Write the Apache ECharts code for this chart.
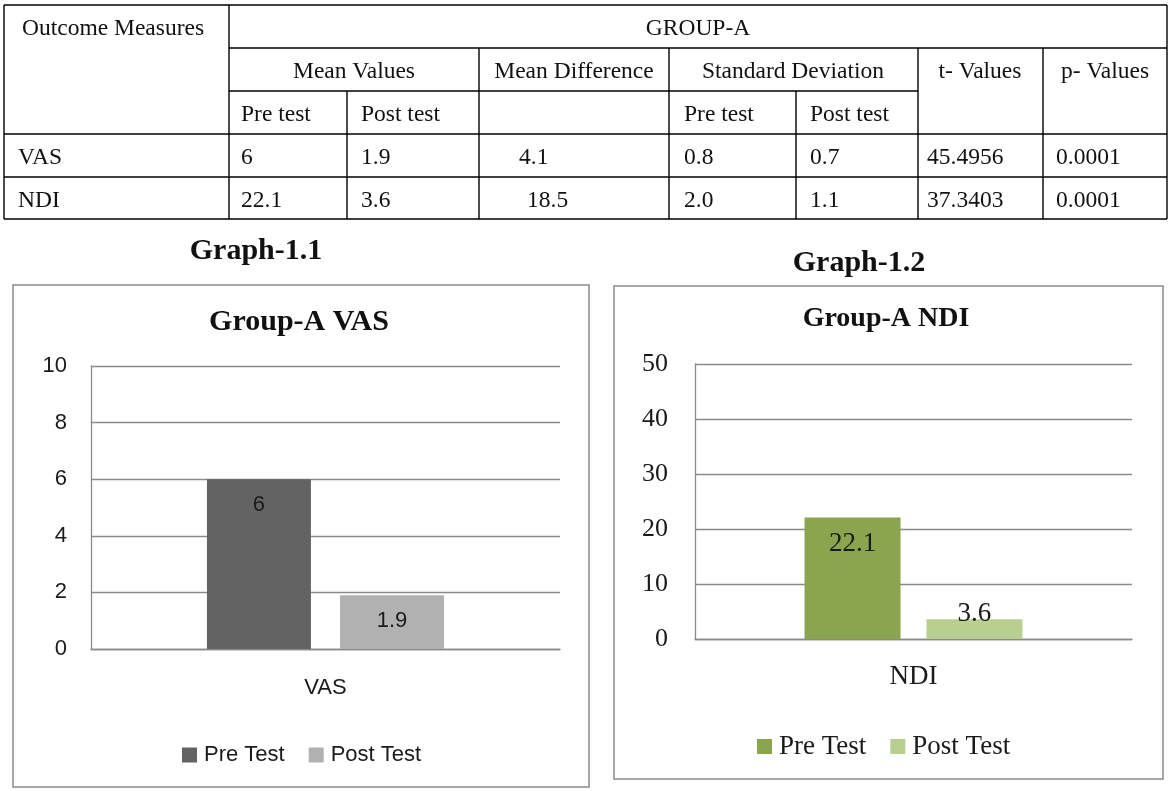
<!DOCTYPE html>
<html>
<head>
<meta charset="utf-8">
<script src="https://cdn.jsdelivr.net/npm/echarts@6/dist/echarts.min.js"></script>
<style>
html,body{margin:0;padding:0;background:#fff;}
#main{width:1171px;height:791px;}
</style>
</head>
<body>
<div id="main"></div>
<script>
// ---------- table data ----------
const outcomeHeader = 'Outcome Measures';
const groupLabel = 'GROUP-A';
const headerGroups = ['Mean Values', 'Mean Difference', 'Standard Deviation', 't- Values', 'p- Values'];
const subHeaders = ['Pre test', 'Post test', 'Pre test', 'Post test'];
const measures = ['VAS', 'NDI'];
const meanPre = ['6', '22.1'];
const meanPost = ['1.9', '3.6'];
const meanDiff = ['4.1', '18.5'];
const sdPre = ['0.8', '2.0'];
const sdPost = ['0.7', '1.1'];
const tValues = ['45.4956', '37.3403'];
const pValues = ['0.0001', '0.0001'];

// ---------- chart data ----------
const seriesNames = ['Pre Test', 'Post Test'];
const graphTitles = ['Graph-1.1', 'Graph-1.2'];
const chartTitles = ['Group-A VAS', 'Group-A NDI'];
const vasCategories = ['VAS'];
const vasPre = [6];
const vasPost = [1.9];
const vasTicks = { min: 0, max: 10, step: 2 };
const ndiCategories = ['NDI'];
const ndiPre = [22.1];
const ndiPost = [3.6];
const ndiTicks = { min: 0, max: 50, step: 10 };

// ---------- layout / style ----------
const SERIF = '"Liberation Serif","Times New Roman",serif';
const SANS = '"Liberation Sans",Arial,sans-serif';
const TFS = 23.5;
const colX = [4, 229, 347, 479, 669, 796, 918, 1043, 1167];
const rowY = [5, 48, 91, 134, 177, 219];

const graphics = [];
function line(x1, y1, x2, y2, stroke, w) {
  graphics.push({ type: 'line', silent: true, shape: { x1, y1, x2, y2 }, style: { stroke: stroke || '#000', lineWidth: w || 1.4 } });
}
function text(t, x, y, align, font, color) {
  graphics.push({ type: 'text', silent: true, x, y, style: { text: t, font: font || (TFS + 'px ' + SERIF), fill: color || '#111', align: align || 'left', verticalAlign: 'middle' } });
}
// table borders
line(colX[0], rowY[0], colX[8], rowY[0]);
line(colX[0], rowY[5], colX[8], rowY[5]);
line(colX[0], rowY[0], colX[0], rowY[5]);
line(colX[8], rowY[0], colX[8], rowY[5]);
line(colX[1], rowY[1], colX[8], rowY[1]);
line(colX[1], rowY[2], colX[6], rowY[2]);
line(colX[0], rowY[3], colX[8], rowY[3]);
line(colX[0], rowY[4], colX[8], rowY[4]);
line(colX[1], rowY[0], colX[1], rowY[5]);
line(colX[2], rowY[2], colX[2], rowY[5]);
line(colX[3], rowY[1], colX[3], rowY[5]);
line(colX[4], rowY[1], colX[4], rowY[5]);
line(colX[5], rowY[2], colX[5], rowY[5]);
line(colX[6], rowY[1], colX[6], rowY[5]);
line(colX[7], rowY[1], colX[7], rowY[5]);
// table header text
const dy = 2;
text(outcomeHeader, 22, 27 + dy);
text(groupLabel, 698, 27 + dy, 'center');
const groupCenters = [354, 574, 793, 980, 1105];
headerGroups.forEach((h, i) => text(h, groupCenters[i], 70 + dy, 'center'));
const subX = [241, 361, 684, 810];
subHeaders.forEach((h, i) => text(h, subX[i], 113 + dy, 'left'));
// table body
const rowCenters = [156 + dy, 199 + dy];
const diffX = [519, 527];
measures.forEach((m, r) => {
  const y = rowCenters[r];
  text(m, 18, y);
  text(meanPre[r], 241, y);
  text(meanPost[r], 361, y);
  text(meanDiff[r], diffX[r], y);
  text(sdPre[r], 684, y);
  text(sdPost[r], 810, y);
  text(tValues[r], 927, y);
  text(pValues[r], 1056, y);
});
// chart boxes
graphics.push({ type: 'rect', silent: true, z: -1, shape: { x: 13, y: 285, width: 576, height: 502 }, style: { fill: 'none', stroke: '#8c8c8c', lineWidth: 1.5 } });
graphics.push({ type: 'rect', silent: true, z: -1, shape: { x: 614, y: 286, width: 549, height: 493 }, style: { fill: 'none', stroke: '#8c8c8c', lineWidth: 1.5 } });
// titles
text(graphTitles[0], 256, 251, 'center', 'bold 30px ' + SERIF, '#111');
text(chartTitles[0], 299, 322, 'center', 'bold 30px ' + SERIF, '#111');
text(graphTitles[1], 859, 263, 'center', 'bold 30px ' + SERIF, '#111');
text(chartTitles[1], 886, 319, 'center', 'bold 28px ' + SERIF, '#111');

const gridCol = '#8a8a8a';
const c1 = ['#636363', '#b1b1b1'];
const c2 = ['#8aa54e', '#b9cf8f'];

function yAxis(idx, ticks, font, size, margin) {
  return {
    type: 'value', gridIndex: idx, min: ticks.min, max: ticks.max, interval: ticks.step,
    axisLine: { show: true, lineStyle: { color: gridCol, width: 1.3 } },
    axisTick: { show: false },
    splitLine: { show: true, lineStyle: { color: gridCol, width: 1.3 } },
    axisLabel: { fontFamily: font, fontSize: size, color: '#1a1a1a', margin: margin }
  };
}
function xAxis(idx, cats, font, size, margin) {
  return {
    type: 'category', gridIndex: idx, data: cats,
    axisLine: { show: true, lineStyle: { color: gridCol, width: 1.3 } },
    axisTick: { show: false },
    axisLabel: { fontFamily: font, fontSize: size, color: '#1a1a1a', margin: margin }
  };
}

const ndiPostData = ndiPost.map(v => ({ value: v, label: { position: 'top', distance: -8 } }));

const option = {
  backgroundColor: '#ffffff',
  animation: false,
  graphic: graphics,
  grid: [
    { left: 91, top: 366, width: 469, height: 283, containLabel: false },
    { left: 695, top: 364, width: 437, height: 275, containLabel: false }
  ],
  xAxis: [
    xAxis(0, vasCategories, SANS, 22, 28),
    xAxis(1, ndiCategories, SERIF, 27, 24)
  ],
  yAxis: [
    yAxis(0, vasTicks, SANS, 22, 24),
    yAxis(1, ndiTicks, SERIF, 26, 27)
  ],
  legend: [
    {
      left: 177, top: 739, itemWidth: 15, itemHeight: 15, itemGap: 24, icon: 'rect',
      textStyle: { fontFamily: SANS, fontSize: 22, color: '#1a1a1a', padding: [0, 0, 0, 2] },
      data: seriesNames.map((n, i) => ({ name: n, itemStyle: { color: c1[i] } }))
    },
    {
      left: 752, top: 728, itemWidth: 15, itemHeight: 15, itemGap: 24, icon: 'rect',
      textStyle: { fontFamily: SERIF, fontSize: 27, color: '#1a1a1a', padding: [0, 0, 0, 2] },
      data: seriesNames.map((n, i) => ({ name: n, itemStyle: { color: c2[i] } }))
    }
  ],
  series: [
    {
      name: seriesNames[0], type: 'bar', xAxisIndex: 0, yAxisIndex: 0, data: vasPre,
      barWidth: 104, barGap: '28%', itemStyle: { color: c1[0] },
      label: { show: true, position: 'insideTop', distance: 15, fontFamily: SANS, fontSize: 22, color: '#1a1a1a' }
    },
    {
      name: seriesNames[1], type: 'bar', xAxisIndex: 0, yAxisIndex: 0, data: vasPost,
      barWidth: 104, barGap: '28%', itemStyle: { color: c1[1] },
      label: { show: true, position: 'insideTop', distance: 15, fontFamily: SANS, fontSize: 22, color: '#1a1a1a' }
    },
    {
      name: seriesNames[0], type: 'bar', xAxisIndex: 1, yAxisIndex: 1, data: ndiPre,
      barWidth: 96, barGap: '27%', itemStyle: { color: c2[0] },
      label: { show: true, position: 'insideTop', distance: 13, fontFamily: SERIF, fontSize: 27, color: '#1a1a1a' }
    },
    {
      name: seriesNames[1], type: 'bar', xAxisIndex: 1, yAxisIndex: 1, data: ndiPostData,
      barWidth: 96, barGap: '27%', itemStyle: { color: c2[1] },
      label: { show: true, fontFamily: SERIF, fontSize: 27, color: '#1a1a1a' }
    }
  ]
};

const chart = echarts.init(document.getElementById('main'), null, { renderer: 'canvas' });
chart.setOption(option);
</script>
</body>
</html>
